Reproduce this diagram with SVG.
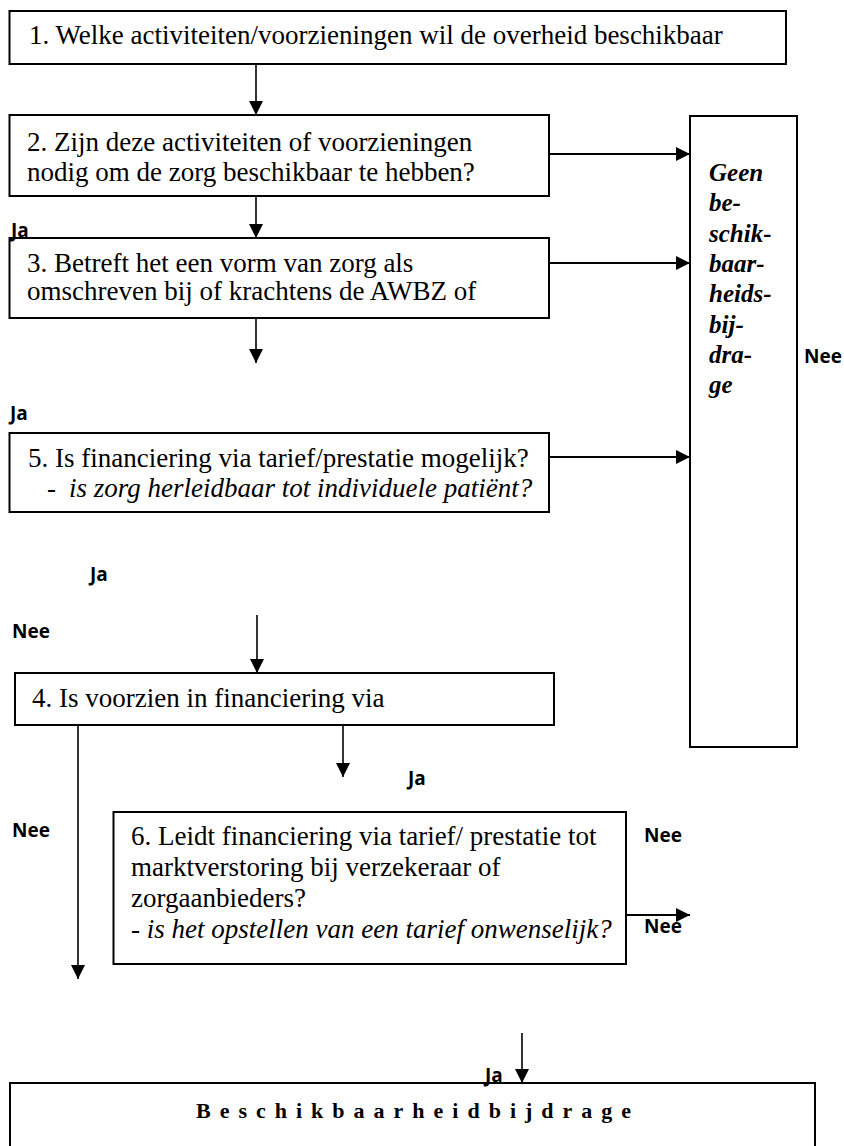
<svg xmlns="http://www.w3.org/2000/svg" width="844" height="1146" viewBox="0 0 844 1146">
<defs>
<marker id="ah" markerUnits="userSpaceOnUse" markerWidth="14" markerHeight="14" viewBox="0 0 12 12" refX="12" refY="6" orient="auto">
<path d="M0,0 L12,6 L0,12 Z" fill="#000"/>
</marker>
<style>
.box{fill:#fff;stroke:#000;stroke-width:2}
.t{font-family:'Liberation Serif','DejaVu Serif',serif;font-size:27px;fill:#000}
.ti{font-family:'Liberation Serif','DejaVu Serif',serif;font-size:27px;font-style:italic;fill:#000}
.g{font-family:'Liberation Serif','DejaVu Serif',serif;font-size:25px;font-style:italic;font-weight:bold;fill:#000}
.lab{font-family:'Open Sans','Liberation Sans',sans-serif;font-size:19px;font-weight:bold;fill:#000}
.b{font-family:'Liberation Serif','DejaVu Serif',serif;font-size:22px;font-weight:bold;letter-spacing:9px;fill:#000}
.c{fill:none;stroke:#000;stroke-width:1.6;marker-end:url(#ah)}
.ch{fill:none;stroke:#000;stroke-width:2.2;marker-end:url(#ah)}
</style>
</defs>
<rect width="844" height="1146" fill="#fff"/>

<g id="n1">
<rect class="box" x="9.5" y="11" width="776.5" height="53"/>
<text class="t" x="29" y="44">1. Welke activiteiten/voorzieningen wil de overheid beschikbaar</text>
</g>

<g id="n2">
<rect class="box" x="9.5" y="115" width="539.5" height="81"/>
<text class="t" x="27" y="151">2. Zijn deze activiteiten of voorzieningen</text>
<text class="t" x="27" y="181">nodig om de zorg beschikbaar te hebben?</text>
</g>

<g id="n3">
<rect class="box" x="9.5" y="238" width="539.5" height="80"/>
<text class="t" x="27" y="272">3. Betreft het een vorm van zorg als</text>
<text class="t" x="27" y="300">omschreven bij of krachtens de AWBZ of</text>
</g>

<g id="geen">
<rect class="box" x="690" y="116" width="107" height="631"/>
<text class="g" x="709" y="181">Geen</text>
<text class="g" x="709" y="211.3">be-</text>
<text class="g" x="709" y="241.6">schik-</text>
<text class="g" x="709" y="271.9">baar-</text>
<text class="g" x="709" y="302.2">heids-</text>
<text class="g" x="709" y="332.5">bij-</text>
<text class="g" x="709" y="362.8">dra-</text>
<text class="g" x="709" y="393.1">ge</text>
</g>

<g id="n5">
<rect class="box" x="9.5" y="433" width="539.5" height="79"/>
<text class="t" x="28" y="467">5. Is financiering via tarief/prestatie mogelijk?</text>
<text class="t" x="47" y="497">-</text>
<text class="ti" x="69" y="497">is zorg herleidbaar tot individuele patiënt?</text>
</g>

<g id="n4">
<rect class="box" x="15" y="673" width="539" height="52"/>
<text class="t" x="32" y="707">4. Is voorzien in financiering via</text>
</g>

<g id="n6">
<rect class="box" x="113.5" y="812" width="512.5" height="152"/>
<text class="t" x="131" y="845">6. Leidt financiering via tarief/ prestatie tot</text>
<text class="t" x="131" y="876">marktverstoring bij verzekeraar of</text>
<text class="t" x="131" y="907">zorgaanbieders?</text>
<text class="ti" x="131" y="938">- is het opstellen van een tarief onwenselijk?</text>
</g>

<g id="nb">
<rect class="box" x="10" y="1083" width="805" height="90"/>
<text class="b" x="196" y="1118">Beschikbaarheidbijdrage</text>
</g>

<g id="connectors">
<line class="c" x1="256" y1="64" x2="256" y2="115"/>
<line class="ch" x1="549" y1="154" x2="690" y2="154"/>
<line class="c" x1="256" y1="196" x2="256" y2="238"/>
<line class="ch" x1="549" y1="263" x2="690" y2="263"/>
<line class="c" x1="256" y1="318" x2="256" y2="363"/>
<line class="ch" x1="549" y1="457" x2="690" y2="457"/>
<line class="c" x1="257" y1="615" x2="257" y2="673"/>
<line class="c" x1="78" y1="725" x2="78" y2="979"/>
<line class="c" x1="343" y1="725" x2="343" y2="777"/>
<line class="ch" x1="626" y1="915" x2="690" y2="915"/>
<line class="c" x1="522" y1="1033" x2="522" y2="1083"/>
</g>

<g id="labels">
<text class="lab" x="11" y="237">Ja</text>
<text class="lab" x="804" y="363">Nee</text>
<text class="lab" x="10" y="420">Ja</text>
<text class="lab" x="90" y="581">Ja</text>
<text class="lab" x="12" y="638">Nee</text>
<text class="lab" x="408" y="785">Ja</text>
<text class="lab" x="12" y="837">Nee</text>
<text class="lab" x="644" y="842">Nee</text>
<text class="lab" x="644" y="933">Nee</text>
<text class="lab" x="485" y="1082">Ja</text>
</g>
</svg>
